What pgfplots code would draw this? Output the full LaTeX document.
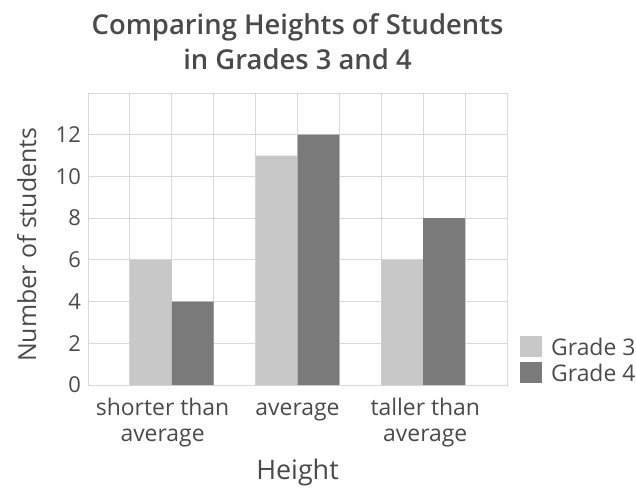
\documentclass[border=0pt]{standalone}
\usepackage{fontspec}
\IfFontExistsTF{Open Sans SemiBold}{%
  \setmainfont{Open Sans}[BoldFont={Open Sans SemiBold}]}{%
  \IfFontExistsTF{Open Sans Semibold}{%
    \setmainfont{Open Sans}[BoldFont={Open Sans Semibold}]}{%
    \setmainfont{Open Sans}}}
\usepackage{pgfplots}
\pgfplotsset{compat=1.18}
\definecolor{gthree}{HTML}{C8C8C8}
\definecolor{gfour}{HTML}{7A7A7A}
\definecolor{txt}{HTML}{4A4A4A}
\definecolor{grd}{HTML}{D9D9D9}
\pgfplotstableread{
x y
1.5 6
4.5 11
7.5 6
}\gradethree
\pgfplotstableread{
x y
2.5 4
5.5 12
8.5 8
}\gradefour
\begin{document}
\begin{tikzpicture}
\begin{axis}[
  at={(0,0)}, anchor=south west,
  scale only axis, width=419bp, height=292bp,
  xmin=0, xmax=10, ymin=0, ymax=14,
  ytick={0,2,...,12},
  minor ytick={14},
  xtick={1.78,5,8.05},
  xticklabels={{\strut shorter than\\average},{\strut average},{\strut taller than\\average}},
  minor xtick={1,2,...,9},
  xmajorgrids=false, xminorgrids=true, ymajorgrids=true, yminorgrids=true,
  major grid style={grd, line width=0.8bp},
  minor grid style={grd, line width=0.8bp},
  axis line style={grd, line width=0.8bp},
  major tick length=0pt, minor tick length=0pt,
  /pgf/number format/assume math mode=true,
  x tick label style={align=center, font=\fontsize{23}{27}\selectfont, text=txt, inner sep=0pt, yshift=-11bp},
  y tick label style={font=\fontsize{22}{25}\selectfont, text=txt, inner sep=0pt, xshift=-7bp},
  title={Comparing Heights of Students\\in Grades 3 and 4},
  title style={align=center, font=\bfseries\fontsize{27.5}{35}\selectfont, text=txt, anchor=south, inner sep=0pt, at={(axis description cs:0.5,1)}, yshift=17bp},
  xlabel={Height},
  xlabel style={font=\fontsize{27}{30}\selectfont, text=txt, anchor=center, at={(axis description cs:0.5,-0.30)}},
  ylabel={Number of students},
  ylabel style={font=\fontsize{25}{30}\selectfont, text=txt, anchor=center, at={(axis description cs:-0.146,0.48)}},
  ybar, bar width=1, bar shift=0pt,
  legend style={at={(axis description cs:1.031,0.0)}, anchor=south west, draw=none, fill=none,
    font=\fontsize{23}{24}\selectfont, text=txt, row sep=3bp, inner sep=0pt,
    /tikz/every odd column/.append style={column sep=7bp}},
  legend cell align=left,
  legend image code/.code={\fill[#1] (0bp,-10bp) rectangle (22bp,11bp);},
]
\addplot[fill=gthree, draw=none] table[x=x,y=y] {\gradethree};
\addplot[fill=gfour, draw=none] table[x=x,y=y] {\gradefour};
\legend{Grade 3, Grade 4}
\end{axis}
\pgfresetboundingbox
\useasboundingbox (-88bp,-108bp) rectangle (548bp,385bp);
\end{tikzpicture}
\end{document}
